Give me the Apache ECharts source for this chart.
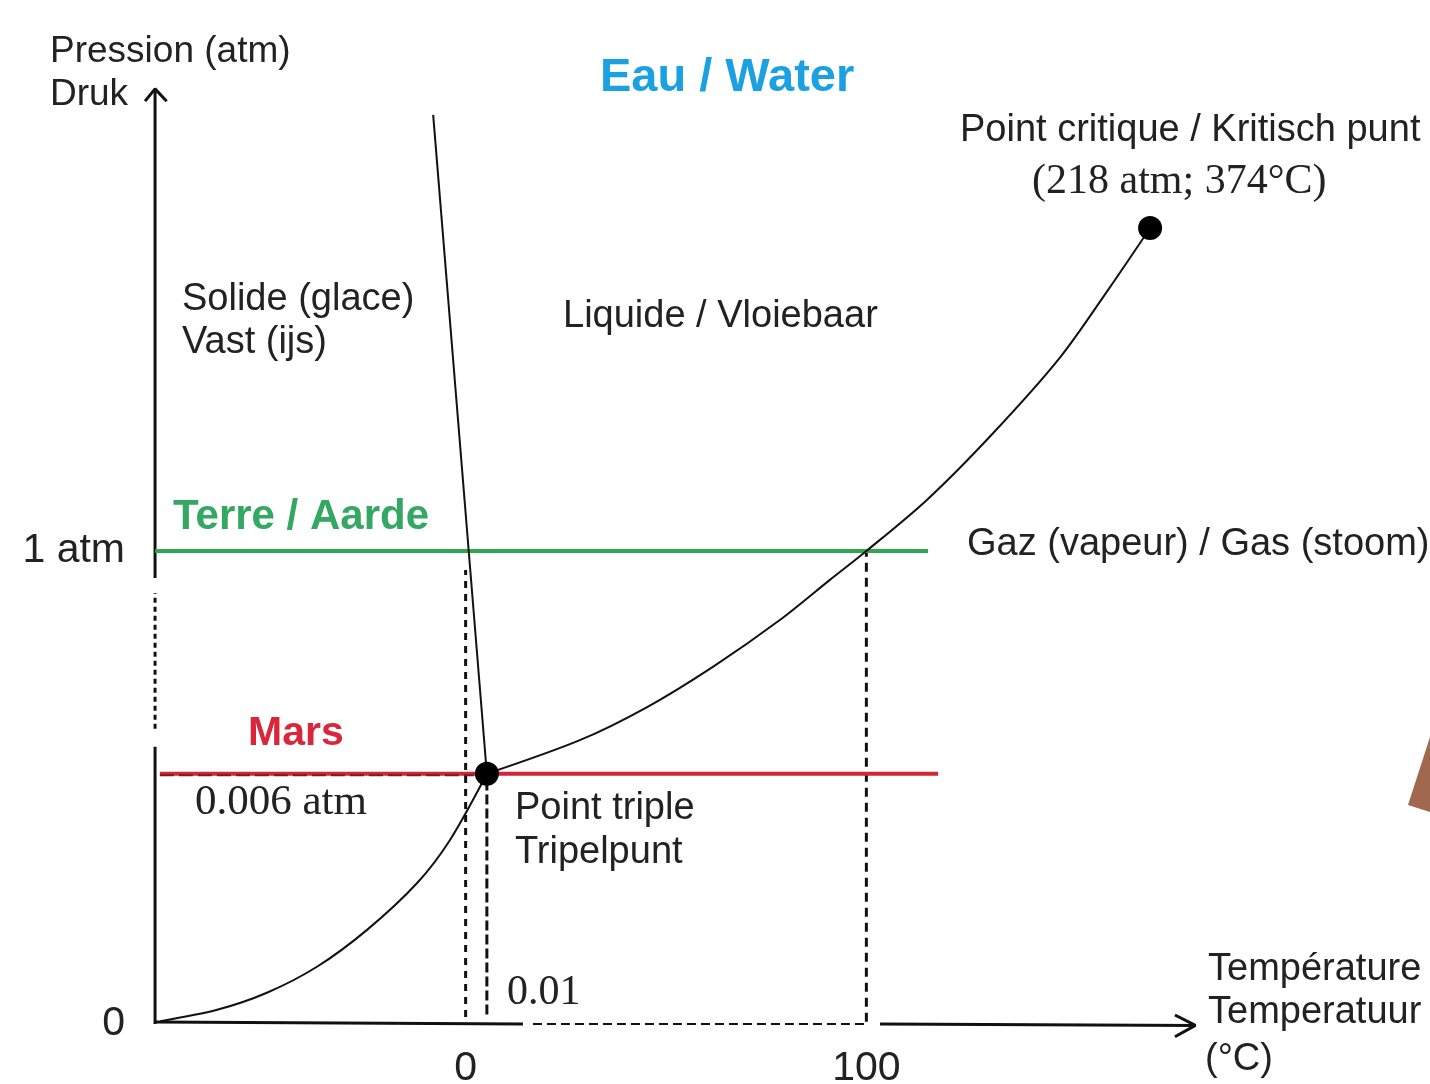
<!DOCTYPE html>
<html>
<head>
<meta charset="utf-8">
<title>Eau / Water</title>
<script src="https://cdn.jsdelivr.net/npm/echarts@6/dist/echarts.min.js"></script>
<style>
    html, body { margin: 0; padding: 0; background: #fff; }
    #main { width: 1430px; height: 1084px; }
</style>
</head>
<body>
<div id="main"></div>
<script>
// schematic coordinates: x = temperature position, y = pressure position
var sublimation = [[-76.2, 0.006], [-62.0, 0.030], [-49.6, 0.066], [-37.1, 0.121], [-24.6, 0.199],
    [-12.1, 0.298], [-3.9, 0.389], [5.3, 0.529]];
var vaporization = [[5.3, 0.529], [28.5, 0.600], [45.3, 0.670], [61.7, 0.755],
    [78.4, 0.854], [90.9, 0.939], [100, 1.0], [115.1, 1.108], [131.6, 1.249],
    [148.4, 1.410], [160.8, 1.558], [170.8, 1.683]];
var fusion = [[-8.1, 1.922], [5.3, 0.529]];
var triplePoint = [5.3, 0.529];
var criticalPoint = [170.8, 1.683];
var earthLevel = [[-77.5, 1.0], [115.4, 1.0]];
var marsLevel = [[-76.3, 0.529], [117.9, 0.529]];
var marsShadow = [[-76.3, 0.526], [2.0, 0.526]];

var meltGuide = [[0, 0.015], [0, 0.96]];
var tripleGuide = [[5.3, 0.02], [5.3, 0.529]];
var boilGuide = [[100, 0.005], [100, 1.0]];

var yAxisLow = [[-77.5, 0], [-77.5, 0.586]];
var yAxisDash = [[-77.5, 0.624], [-77.5, 0.911]];
var yAxisHigh = [[-77.5, 0.943], [-77.5, 1.975]];
var yArrow = [[-80.0, 1.951], [-77.5, 1.977], [-74.6, 1.951]];
var xAxisLeft = [[-77.5, 0.004], [14.3, 0]];
var xAxisDash = [[16.8, 0], [99.7, 0]];
var xAxisRight = [[103.4, 0], [182.1, -0.003]];
var xArrow = [[177.0, 0.019], [182.1, -0.003], [177.0, -0.027]];

var xTicks = [0, 100];
var yTicks = [0, 1];

var sans = '"Liberation Sans", Arial, sans-serif';
var serif = '"Liberation Serif", "Times New Roman", serif';

function lineSeries(data, color, width, type, smooth) {
    return {
        type: 'line',
        data: data,
        symbol: 'none',
        smooth: smooth || false,
        clip: false,
        silent: true,
        lineStyle: {
            color: color,
            width: width,
            type: type || 'solid'
        }
    };
}

function dotSeries(point) {
    return {
        type: 'scatter',
        data: [point],
        symbol: 'circle',
        symbolSize: 24,
        clip: false,
        silent: true,
        itemStyle: { color: '#000', opacity: 1 },
        z: 5
    };
}

function label(text, x, y, font, color, align) {
    return {
        type: 'text',
        x: x,
        y: y,
        silent: true,
        style: {
            text: text,
            font: font,
            fill: color || '#222',
            textAlign: align || 'left',
            textVerticalAlign: 'middle'
        }
    };
}

var option = {
    animation: false,
    backgroundColor: '#fff',
    grid: {
        left: 125,
        right: 223,
        top: 78,
        bottom: 60,
        outerBoundsMode: 'none'
    },
    xAxis: {
        type: 'value',
        min: -85,
        max: 185,
        axisLine: { show: false },
        axisTick: { show: false },
        splitLine: { show: false },
        axisLabel: {
            customValues: xTicks,
            margin: 24,
            fontSize: 41,
            fontFamily: sans,
            color: '#222'
        }
    },
    yAxis: {
        type: 'value',
        min: 0,
        max: 2,
        offset: -30,
        axisLine: { show: false },
        axisTick: { show: false },
        splitLine: { show: false },
        axisLabel: {
            customValues: yTicks,
            margin: 30,
            fontSize: 41,
            fontFamily: sans,
            color: '#222',
            formatter: function (v) {
                return v === 1 ? '1 atm' : '0';
            }
        }
    },
    series: [
        lineSeries(yAxisLow, '#111', 3),
        lineSeries(yAxisDash, '#111', 3, [5, 4]),
        lineSeries(yAxisHigh, '#111', 3),
        lineSeries(yArrow, '#111', 3),
        lineSeries(xAxisLeft, '#111', 3),
        lineSeries(xAxisDash, '#111', 2, [9, 5]),
        lineSeries(xAxisRight, '#111', 3),
        lineSeries(xArrow, '#111', 3),
        lineSeries(meltGuide, '#111', 3, [7, 6]),
        lineSeries(tripleGuide, '#111', 3, [10, 4]),
        lineSeries(boilGuide, '#111', 3, [9, 6]),
        lineSeries(earthLevel, '#2fa650', 4),
        lineSeries(marsLevel, '#d0263a', 4),
        lineSeries(marsShadow, '#7a1a22', 2, [14, 5]),
        lineSeries(sublimation, '#111', 2, 'solid', 0.3),
        lineSeries(vaporization, '#111', 2, 'solid', 0.3),
        lineSeries(fusion, '#111', 2),
        dotSeries(triplePoint),
        dotSeries(criticalPoint)
    ],
    graphic: [
        label('Pression (atm)', 50, 52, '37px ' + sans),
        label('Druk', 50, 95, '37px ' + sans),
        label('Eau / Water', 600, 78, 'bold 47px ' + sans, '#1ba0e2'),
        label('Point critique / Kritisch punt', 960, 131, '38px ' + sans),
        label('(218 atm; 374°C)', 1032, 182, '42px ' + serif),
        label('Solide (glace)', 182, 300, '38px ' + sans),
        label('Vast (ijs)', 182, 343, '38px ' + sans),
        label('Liquide / Vloiebaar', 563, 317, '38px ' + sans),
        label('Terre / Aarde', 173, 517, 'bold 42px ' + sans, '#34a862'),
        label('Gaz (vapeur) / Gas (stoom)', 967, 545, '38px ' + sans),
        label('Mars', 248, 734, 'bold 41px ' + sans, '#d8263a'),
        label('0.006 atm', 195, 803, '43px ' + serif),
        label('Point triple', 515, 809, '38px ' + sans),
        label('Tripelpunt', 515, 853, '38px ' + sans),
        label('0.01', 507, 993, '42px ' + serif),
        label('Température', 1208, 970, '38px ' + sans),
        label('Temperatuur', 1208, 1013, '38px ' + sans),
        label('(°C)', 1205, 1060, '38px ' + sans),
        {
            type: 'polygon',
            silent: true,
            shape: { points: [[1408, 805], [1430, 737], [1430, 812]] },
            style: { fill: '#a0694f' }
        }
    ]
};

var myChart = echarts.init(document.getElementById('main'));
myChart.setOption(option);
</script>
</body>
</html>
